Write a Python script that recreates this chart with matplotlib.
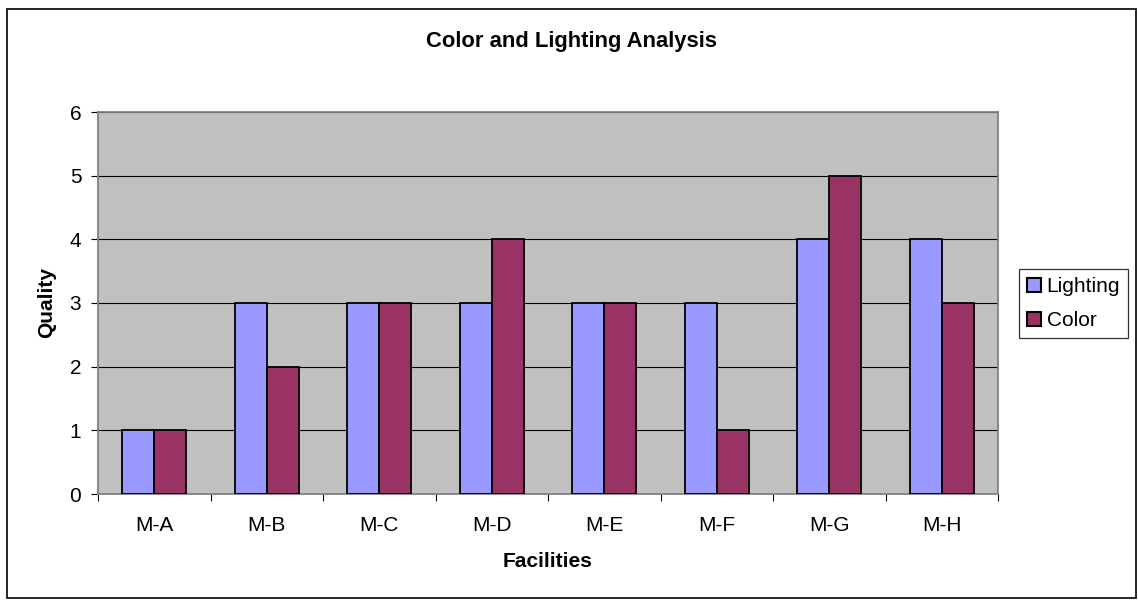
import matplotlib
matplotlib.use("Agg")
import matplotlib.pyplot as plt
from matplotlib.patches import Rectangle
import numpy as np

categories = ["M-A", "M-B", "M-C", "M-D", "M-E", "M-F", "M-G", "M-H"]
lighting = [1, 3, 3, 3, 3, 3, 4, 4]
color = [1, 2, 3, 4, 3, 1, 5, 3]

plt.rcParams['font.family'] = ['Liberation Sans', 'DejaVu Sans']

W, H = 1138, 600
fig = plt.figure(figsize=(W / 100, H / 100), dpi=100)
fig.patch.set_facecolor('white')

# outer frame
fig.patches.append(Rectangle((7 / W, 2 / H), 1129 / W, 589 / H, transform=fig.transFigure,
                             fill=False, edgecolor='black', linewidth=1.2))

left, right, top, bottom = 98, 998, 112, 494
ax = fig.add_axes([left / W, 1 - bottom / H, (right - left) / W, (bottom - top) / H])
ax.set_facecolor('#C0C0C0')

x = np.arange(len(categories))
bw = 1 / 3.5
ax.bar(x - bw / 2, lighting, bw, color='#9999FF', edgecolor='black', linewidth=1.3,
       label='Lighting', zorder=3)
ax.bar(x + bw / 2, color, bw, color='#993366', edgecolor='black', linewidth=1.3,
       label='Color', zorder=3)

ax.set_xlim(-0.5, len(categories) - 0.5)
ax.set_ylim(0, 6)
ax.set_yticks(range(0, 7))
ax.yaxis.grid(True, color='black', linewidth=0.8, zorder=1)
ax.set_axisbelow(True)

ax.set_xticks(np.arange(-0.5, len(categories), 1))
ax.set_xticklabels([])
ax.set_xticks(x, minor=True)
ax.set_xticklabels(categories, minor=True)
ax.tick_params(axis='x', which='minor', length=0, pad=16, labelsize=15)
ax.tick_params(axis='x', which='major', length=5, color='black', direction='out')
ax.tick_params(axis='y', length=5, color='black', labelsize=15, pad=7)

for s in ['left', 'bottom', 'top', 'right']:
    ax.spines[s].set_color('#808080')
    ax.spines[s].set_linewidth(1.3)

ax.set_xlabel('Facilities', fontsize=15, fontweight='bold', labelpad=12)
ax.set_ylabel('Quality', fontsize=15, fontweight='bold', labelpad=10)

fig.text(572 / W, 1 - 41 / H, 'Color and Lighting Analysis',
         ha='center', va='center', fontsize=15.8, fontweight='bold')

leg = ax.legend(loc='upper left', bbox_to_anchor=(1019 / W, 1 - 269 / H),
                bbox_transform=fig.transFigure, frameon=True, fancybox=False,
                edgecolor='black', fontsize=15, handlelength=0.67, handleheight=0.67,
                handletextpad=0.25, borderpad=0.4, labelspacing=0.7, borderaxespad=0)
leg.get_frame().set_linewidth(0.9)
for h in leg.legend_handles:
    h.set_linewidth(1.5)

fig.savefig('out.png', dpi=100, facecolor='white')
